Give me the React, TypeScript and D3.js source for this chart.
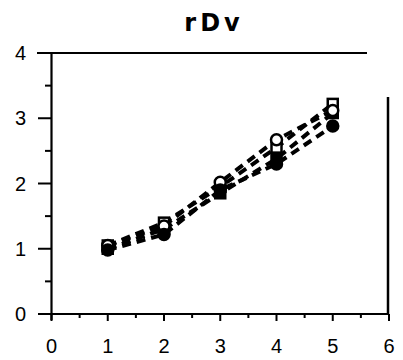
import React from "react";
import * as d3 from "d3";

const xValues = [1, 2, 3, 4, 5];
const openSquare = [1.05, 1.4, 1.95, 2.55, 3.22];
const filledSquare = [1.0, 1.3, 1.85, 2.38, 3.08];
const openCircle = [1.05, 1.35, 2.02, 2.67, 3.12];
const filledCircle = [0.98, 1.22, 1.9, 2.3, 2.88];
const xTicks = [0, 1, 2, 3, 4, 5, 6];
const yTicks = [0, 1, 2, 3, 4];
const xMinor = [0.5, 1.5, 2.5, 3.5, 4.5, 5.5];
const yMinor = [0.5, 1.5, 2.5, 3.5];
const title = "rDv";

const W = 403;
const H = 360;

export default function App() {
  const x = d3.scaleLinear().domain([0, 6]).range([51.5, 389]);
  const y = d3.scaleLinear().domain([0, 4]).range([314, 53]);
  const line = d3
    .line<number>()
    .x((_, i) => x(xValues[i]))
    .y((d) => y(d));

  const series = [
    { values: openSquare, shape: "square", filled: false },
    { values: filledSquare, shape: "square", filled: true },
    { values: openCircle, shape: "circle", filled: false },
    { values: filledCircle, shape: "circle", filled: true },
  ];

  const font = "'Liberation Sans', Arial, sans-serif";

  return (
    <svg
      width={W}
      height={H}
      style={{ position: "absolute", left: 0, top: 0, background: "#fff" }}
    >
      <text
        x={214}
        y={31}
        textAnchor="middle"
        fontFamily="'DejaVu Sans', sans-serif"
        fontWeight="bold"
        fontSize={24}
        letterSpacing={4}
      >
        {title}
      </text>

      {/* frame */}
      <line x1={37} x2={367} y1={y(4)} y2={y(4)} stroke="#000" strokeWidth={2.2} />
      <line x1={388} x2={388} y1={97} y2={y(0)} stroke="#000" strokeWidth={2.5} />
      <line x1={x(0)} x2={x(0)} y1={y(4)} y2={y(0) + 6} stroke="#000" strokeWidth={2.2} />
      <line x1={40} x2={x(6)} y1={y(0)} y2={y(0)} stroke="#000" strokeWidth={2.2} />

      {/* y ticks */}
      {yTicks.map((t) => (
        <g key={"yt" + t}>
          <line x1={38} x2={x(0)} y1={y(t)} y2={y(t)} stroke="#000" strokeWidth={2} />
          <text
            x={26}
            y={y(t) + 7}
            textAnchor="end"
            fontFamily={font}
            fontSize={20}
          >
            {t}
          </text>
        </g>
      ))}
      {yMinor.map((t) => (
        <line key={"ym" + t} x1={45} x2={x(0)} y1={y(t)} y2={y(t)} stroke="#000" strokeWidth={2} />
      ))}

      {/* x ticks */}
      {xTicks.map((t) => (
        <g key={"xt" + t}>
          <line x1={x(t)} x2={x(t)} y1={y(0)} y2={y(0) + 7} stroke="#000" strokeWidth={2} />
          <text
            x={x(t)}
            y={353}
            textAnchor="middle"
            fontFamily={font}
            fontSize={20}
          >
            {t}
          </text>
        </g>
      ))}
      {xMinor.map((t) => (
        <line key={"xm" + t} x1={x(t)} x2={x(t)} y1={y(0)} y2={y(0) + 4} stroke="#000" strokeWidth={2} />
      ))}

      {/* series */}
      {series.map((s, si) => (
        <g key={"s" + si}>
          <path
            d={line(s.values) ?? ""}
            fill="none"
            stroke="#000"
            strokeWidth={4}
            strokeDasharray="9 6"
          />
          {s.values.map((v, i) =>
            s.shape === "square" ? (
              <rect
                key={i}
                x={x(xValues[i]) - 5}
                y={y(v) - 5}
                width={10}
                height={10}
                fill={s.filled ? "#000" : "#fff"}
                stroke="#000"
                strokeWidth={2.5}
              />
            ) : (
              <circle
                key={i}
                cx={x(xValues[i])}
                cy={y(v)}
                r={5.5}
                fill={s.filled ? "#000" : "#fff"}
                stroke="#000"
                strokeWidth={2.5}
              />
            )
          )}
        </g>
      ))}
    </svg>
  );
}
